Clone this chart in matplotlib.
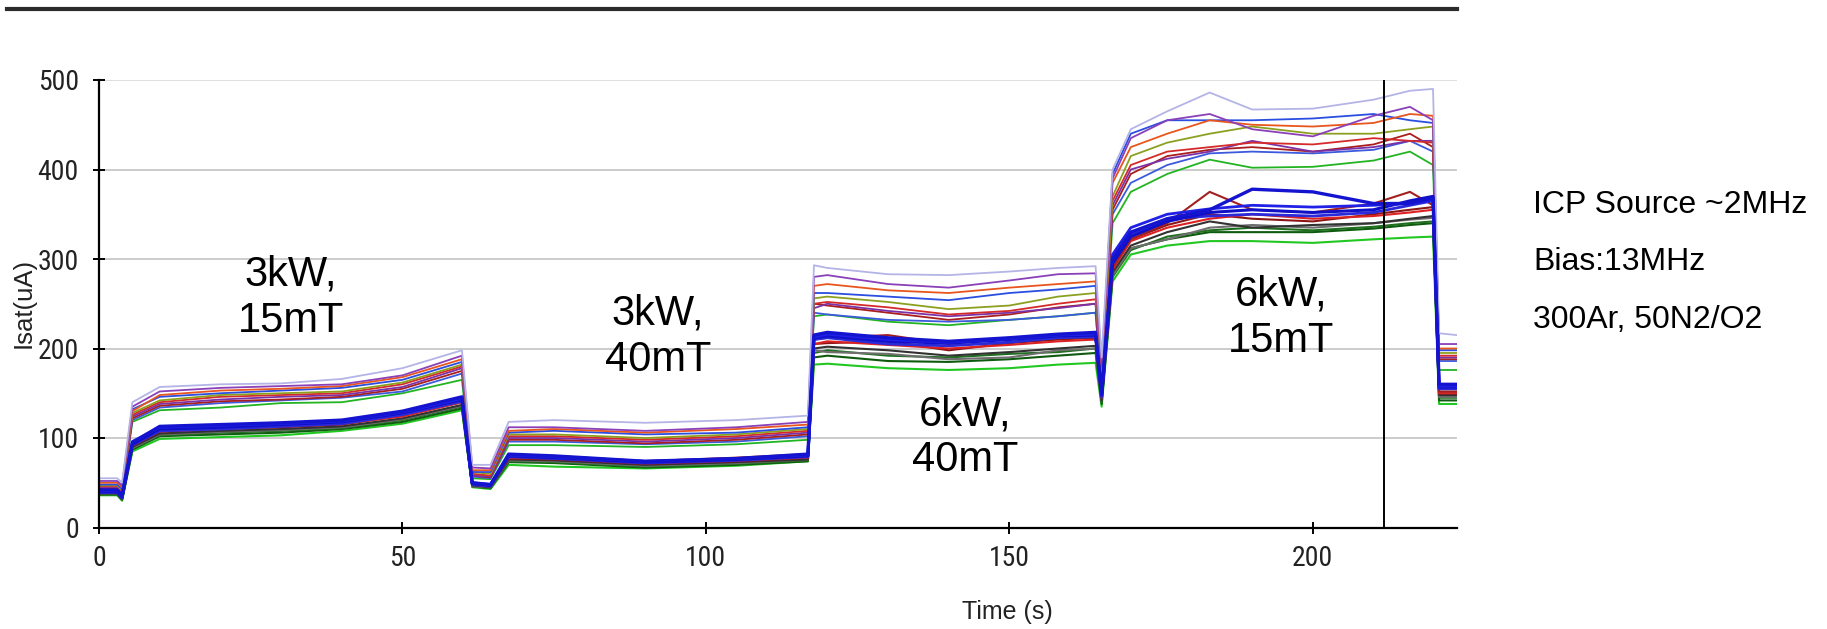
import matplotlib
matplotlib.use("Agg")
import matplotlib.pyplot as plt
from matplotlib.lines import Line2D
from matplotlib import font_manager

# ---------------- data ----------------
time_s = [0, 3.0, 3.8, 5.5, 10, 20, 30, 40, 50, 59.8, 61.5, 64.5, 67.5, 75, 90, 105,
          116.8, 117.8, 120, 130, 140, 150, 158, 164.2, 165.2, 167, 170, 176, 183,
          190, 200, 210, 216, 219.8, 220.8, 223.7]

# upper group of probes
u_lavender = [55, 55, 50, 140, 157, 160, 161, 166, 178, 198, 70, 70, 118, 120, 117, 120, 125, 293, 290, 283, 282, 286, 290, 292, 190, 400, 445, 465, 486, 467, 468, 478, 488, 490, 217, 215]
u_purple = [52, 52, 47, 135, 152, 156, 158, 160, 170, 192, 67, 66, 112, 112, 108, 112, 118, 280, 282, 272, 268, 276, 283, 284, 180, 390, 435, 455, 462, 445, 437, 460, 470, 455, 205, 205]
u_orange = [50, 50, 45, 130, 148, 153, 155, 158, 168, 188, 64, 64, 108, 110, 106, 110, 115, 270, 272, 265, 262, 268, 272, 275, 175, 385, 425, 440, 455, 450, 448, 452, 462, 460, 200, 200]
u_blue1 = [48, 48, 43, 132, 146, 150, 153, 156, 165, 185, 62, 62, 106, 108, 104, 106, 112, 262, 262, 258, 254, 262, 266, 270, 170, 395, 440, 455, 455, 455, 457, 462, 455, 452, 198, 198]
u_olive = [47, 47, 42, 128, 142, 148, 150, 152, 162, 182, 62, 60, 104, 104, 100, 104, 110, 256, 258, 252, 244, 248, 258, 262, 168, 370, 415, 430, 440, 448, 440, 440, 445, 448, 195, 195]
u_red = [46, 46, 41, 126, 140, 146, 148, 150, 160, 180, 60, 58, 102, 102, 98, 102, 108, 250, 252, 246, 238, 242, 250, 255, 165, 365, 405, 420, 425, 430, 428, 435, 432, 430, 192, 192]
u_purple2 = [45, 45, 40, 124, 138, 143, 146, 148, 157, 178, 58, 57, 100, 100, 96, 100, 106, 245, 250, 242, 236, 240, 245, 250, 162, 360, 400, 412, 420, 432, 420, 425, 432, 432, 190, 190]
u_darkred = [44, 44, 39, 122, 136, 141, 143, 146, 155, 175, 58, 56, 98, 98, 94, 98, 104, 250, 248, 240, 232, 238, 246, 250, 160, 355, 395, 415, 422, 425, 420, 428, 440, 425, 188, 188]
u_blue2 = [44, 44, 39, 120, 134, 139, 142, 145, 152, 172, 57, 55, 96, 96, 93, 96, 102, 240, 238, 232, 230, 232, 236, 240, 158, 350, 385, 405, 418, 420, 418, 422, 432, 420, 186, 186]
u_green = [43, 43, 38, 118, 131, 134, 139, 140, 150, 165, 55, 54, 92, 92, 90, 93, 98, 236, 238, 230, 226, 232, 236, 240, 155, 340, 375, 395, 411, 402, 403, 410, 420, 405, 176, 176]

# lower group of probes
l_darkred = [41, 41, 35, 94, 110, 115, 116, 119, 128, 145, 49, 47, 80, 80, 74, 78, 82, 210, 212, 215, 205, 212, 214, 215, 148, 290, 322, 340, 375, 355, 352, 362, 375, 360, 152, 152]
l_red = [40, 40, 34, 92, 108, 112, 114, 116, 124, 140, 48, 46, 78, 78, 72, 75, 78, 205, 208, 204, 200, 204, 208, 210, 145, 288, 320, 335, 345, 350, 345, 348, 352, 355, 150, 150]
l_maroon = [39, 39, 33, 91, 107, 110, 112, 115, 125, 140, 48, 46, 77, 76, 71, 74, 78, 205, 206, 208, 198, 206, 210, 212, 146, 290, 322, 338, 350, 345, 342, 350, 355, 358, 150, 150]
l_black = [38, 38, 32, 90, 105, 108, 110, 113, 122, 137, 47, 45, 76, 75, 70, 73, 76, 200, 202, 198, 192, 196, 200, 203, 142, 285, 315, 330, 342, 335, 338, 340, 345, 348, 148, 148]
l_gray = [38, 38, 32, 89, 104, 107, 109, 112, 121, 136, 46, 45, 75, 74, 69, 72, 76, 198, 196, 194, 188, 190, 198, 200, 142, 282, 312, 322, 335, 338, 335, 340, 344, 346, 146, 146]
l_dkgreen = [37, 37, 31, 88, 103, 106, 108, 111, 120, 135, 46, 44, 74, 73, 68, 71, 75, 195, 198, 192, 190, 194, 196, 200, 140, 280, 310, 325, 332, 335, 332, 336, 340, 342, 145, 145]
l_dkgreen2 = [37, 37, 31, 87, 102, 104, 106, 110, 118, 133, 46, 44, 73, 72, 67, 70, 74, 190, 192, 186, 185, 188, 192, 195, 138, 282, 312, 322, 330, 330, 330, 334, 338, 340, 142, 142]
l_green = [36, 36, 30, 85, 99, 101, 103, 108, 116, 131, 45, 43, 70, 68, 66, 69, 74, 182, 183, 178, 176, 178, 182, 184, 135, 275, 305, 315, 320, 320, 318, 322, 324, 325, 138, 138]
l_blue1 = [42, 42, 36, 95, 113, 115, 117, 120, 130, 146, 50, 48, 82, 80, 74, 77, 82, 215, 218, 212, 208, 212, 216, 218, 150, 300, 330, 345, 355, 378, 375, 362, 362, 368, 160, 160]
l_blue2 = [40, 40, 34, 93, 110, 112, 115, 118, 128, 143, 49, 47, 80, 78, 73, 76, 80, 212, 214, 208, 206, 210, 214, 215, 148, 295, 325, 342, 352, 355, 352, 355, 365, 370, 157, 157]
l_blue3 = [39, 39, 33, 92, 108, 110, 113, 116, 126, 141, 48, 46, 79, 77, 72, 75, 79, 210, 212, 205, 203, 207, 212, 213, 146, 300, 328, 345, 348, 350, 348, 352, 360, 365, 155, 155]
l_blue4 = [41, 41, 35, 96, 112, 114, 116, 119, 129, 144, 50, 48, 81, 79, 74, 77, 81, 213, 216, 210, 207, 211, 215, 216, 149, 305, 335, 350, 356, 360, 358, 360, 362, 366, 158, 158]

y_ticks = [0, 100, 200, 300, 400, 500]
x_ticks = [0, 50, 100, 150, 200]
cursor_time = 211.8

annotations = [("3kW,\n15mT", 31.6, 257), ("3kW,\n40mT", 92.1, 213),
               ("6kW,\n40mT", 142.7, 101), ("6kW,\n15mT", 194.7, 234)]
side_notes = ["ICP Source ~2MHz", "Bias:13MHz", "300Ar, 50N2/O2"]

# ---------------- fonts ----------------
available = {f.name for f in font_manager.fontManager.ttflist}
narrow = None
for cand in ['Liberation Sans Narrow', 'Arial Narrow', 'Roboto Condensed', 'Open Sans Condensed']:
    if cand in available:
        narrow = cand
        break
if narrow:
    tick_font, tick_size = [narrow, 'DejaVu Sans'], 20
else:
    tick_font, tick_size = ['Liberation Sans', 'DejaVu Sans'], 17.5
label_font = ['Liberation Sans', 'DejaVu Sans']
text_font = ['Liberation Sans', 'DejaVu Sans']

# ---------------- figure ----------------
W, H = 1827, 629
fig = plt.figure(figsize=(W / 100, H / 100), dpi=100)
ax = fig.add_axes([99 / W, 1 - 527.5 / H, (1456.7 - 99) / W, (527.5 - 80) / H])

ax.set_xlim(0, 223.7)
ax.set_ylim(0, 500)
for v in y_ticks[1:]:
    ax.axhline(v, color='#c8c8c8' if v < 500 else '#dcdcdc', lw=1.3, zorder=0)

upper = [(u_green, '#22b422'), (u_blue2, '#3c5adc'), (u_darkred, '#aa1e1e'),
         (u_purple2, '#7a32a8'), (u_red, '#d42a2a'), (u_olive, '#8ca020'),
         (u_blue1, '#2a4ee0'), (u_orange, '#e8561e'), (u_purple, '#8a40b8'),
         (u_lavender, '#b4b4e6')]
for ys, c in upper:
    ax.plot(time_s, ys, color=c, lw=1.3, zorder=2)

lower = [(l_green, '#22c822', 1.5), (l_dkgreen2, '#0e5a0e', 1.5), (l_dkgreen, '#1e6e1e', 1.5),
         (l_gray, '#6e6e6e', 1.5), (l_black, '#323232', 1.5), (l_maroon, '#8c1616', 1.5),
         (l_red, '#dc2222', 1.5), (l_darkred, '#a42020', 1.5),
         (l_blue3, '#2a2ada', 2.0), (l_blue2, '#1010c8', 2.2), (l_blue4, '#2020e6', 2.0),
         (l_blue1, '#1414d0', 2.4)]
for ys, c, w in lower:
    ax.plot(time_s, ys, color=c, lw=w, zorder=3)

ax.axvline(cursor_time, color='black', lw=1.4, zorder=4)

for sp in ['top', 'right']:
    ax.spines[sp].set_visible(False)
for sp in ['left', 'bottom']:
    ax.spines[sp].set_linewidth(1.6)
    ax.spines[sp].set_color('black')
    ax.spines[sp].set_zorder(5)

ax.set_xticks(x_ticks)
ax.set_yticks(y_ticks)
ax.set_xticklabels([str(v) for v in x_ticks], fontfamily=tick_font, fontsize=tick_size)
ax.set_yticklabels([str(v) for v in y_ticks], fontfamily=tick_font, fontsize=tick_size)
ax.tick_params(axis='y', direction='inout', length=9, width=1.4, pad=10, colors='black', labelcolor='#222222')
ax.tick_params(axis='x', direction='inout', length=9, width=1.4, pad=8, colors='black', labelcolor='#222222')

ax.set_xlabel('Time (s)', fontfamily=label_font, fontsize=18, color='#222222', va='center')
ax.xaxis.set_label_coords((1007 - 99) / (1456.7 - 99), (527.5 - 612) / 447.5)
ax.set_ylabel('Isat(uA)', fontfamily=label_font, fontsize=18.5, color='#222222', va='center', ha='center')
ax.yaxis.set_label_coords((24 - 99) / (1456.7 - 99), (527.5 - 303) / 447.5)

for txt, x, y in annotations:
    ax.text(x, y, txt, ha='center', va='center', fontsize=30, family=text_font,
            color='black', linespacing=1.2, zorder=6)

side_baselines = [212.7, 270, 328.3]
for txt, yb in zip(side_notes, side_baselines):
    fig.text(1533 / W, 1 - yb / H, txt, ha='left', va='baseline', fontsize=23,
             family=text_font, color='black')

# top rule
fig.add_artist(Line2D([7 / W, 1457 / W], [1 - 8.5 / H, 1 - 8.5 / H], color='#2b2b2b', lw=3.0))

fig.savefig('out.png', dpi=100, facecolor='white')
